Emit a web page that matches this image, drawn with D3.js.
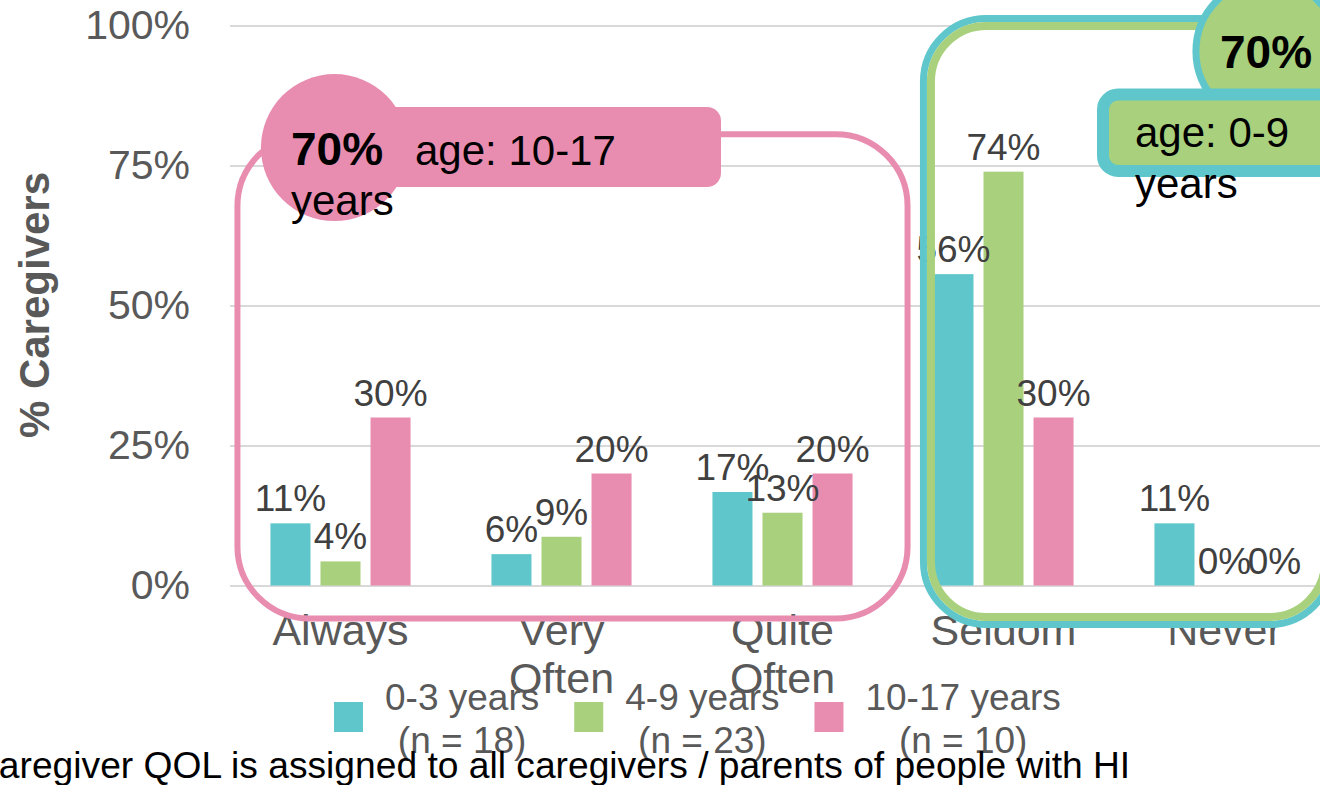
<!DOCTYPE html>
<html>
<head>
<meta charset="utf-8">
<script src="https://cdn.jsdelivr.net/npm/d3@7"></script>
<style>
  html, body { margin: 0; padding: 0; background: #fff; overflow: hidden; }
  svg { display: block; font-family: "Liberation Sans", Arial, Helvetica, sans-serif; }
</style>
</head>
<body>
<svg id="chart" width="1320" height="785"></svg>
<script>
// answers per age group (share of caregivers)
const categories = ["Always", "Very Often", "Quite Often", "Seldom", "Never"];
const seriesNames = ["0-3 years", "4-9 years", "10-17 years"];
const seriesN = [18, 23, 10];
const age0to3 = [0.111, 0.056, 0.167, 0.556, 0.111];
const age4to9 = [0.043, 0.087, 0.130, 0.739, 0];
const age10to17 = [0.30, 0.20, 0.20, 0.30, 0];
const yTicks = [0, 0.25, 0.5, 0.75, 1];
const colors = ["#5fc7cb", "#a8d07d", "#e88db0"];
const footnote = "Caregiver QOL is assigned to all caregivers / parents of people with HI";

const series = [age0to3, age4to9, age10to17];
const grey = "#595959";

const svg = d3.select("#chart");

const x0 = d3.scaleBand()
  .domain(categories)
  .range([230, 1335])
  .paddingInner(0.366)
  .paddingOuter(0.183);

const x1 = d3.scaleBand()
  .domain(seriesNames)
  .range([0, x0.bandwidth()])
  .paddingInner(0.2);

const y = d3.scaleLinear()
  .domain([0, 1])
  .range([585.5, 25.5]);

const color = d3.scaleOrdinal().domain(seriesNames).range(colors);

// y axis + gridlines
const yAxis = svg.append("g")
  .attr("transform", "translate(230,0)")
  .call(d3.axisLeft(y)
    .tickValues(yTicks)
    .tickFormat(d3.format(".0%"))
    .tickSize(-1105)
    .tickPadding(40));
yAxis.select(".domain").remove();
yAxis.selectAll(".tick line").attr("stroke", "#d9d9d9").attr("stroke-width", 2);
yAxis.selectAll(".tick text")
  .attr("fill", grey)
  .style("font-size", "41px");

svg.append("text")
  .attr("transform", "translate(49,305) rotate(-90)")
  .attr("text-anchor", "middle")
  .attr("fill", grey)
  .style("font-size", "42px")
  .style("font-weight", "bold")
  .text("% Caregivers");

// x axis labels, two words -> two lines
const xAxis = svg.append("g")
  .attr("transform", `translate(0,${y(0)})`)
  .call(d3.axisBottom(x0).tickSize(0).tickPadding(29));
xAxis.select(".domain").remove();
xAxis.selectAll(".tick text")
  .attr("fill", grey)
  .style("font-size", "43px")
  .each(function(d) {
    const t = d3.select(this);
    const words = d.split(" ");
    t.text(null);
    words.forEach((w, i) => {
      t.append("tspan").attr("x", 0).attr("dy", i === 0 ? "0.71em" : "1.12em").text(w);
    });
  });
xAxis.selectAll(".tick text").attr("dy", null);

// bars
const rows = categories.map((c, i) => ({
  cat: c,
  vals: seriesNames.map((s, j) => ({ key: s, value: series[j][i] }))
}));

const groups = svg.append("g").selectAll("g")
  .data(rows)
  .join("g")
  .attr("transform", d => `translate(${x0(d.cat)},0)`);

groups.selectAll("rect")
  .data(d => d.vals)
  .join("rect")
  .attr("x", d => x1(d.key))
  .attr("width", x1.bandwidth())
  .attr("y", d => y(d.value))
  .attr("height", d => y(0) - y(d.value))
  .attr("fill", d => color(d.key));

groups.selectAll("text")
  .data(d => d.vals)
  .join("text")
  .attr("x", d => x1(d.key) + x1.bandwidth() / 2)
  .attr("y", d => y(d.value) - 12)
  .attr("text-anchor", "middle")
  .attr("fill", "#404040")
  .style("font-size", "37px")
  .text(d => Math.round(d.value * 100) + "%");

// legend
const legend = svg.append("g");
let lx = 334;
seriesNames.forEach((s, i) => {
  const item = legend.append("g");
  item.append("rect")
    .attr("x", lx).attr("y", 702)
    .attr("width", 29).attr("height", 30)
    .attr("fill", colors[i]);
  const txt = item.append("text")
    .attr("fill", grey)
    .attr("text-anchor", "middle")
    .style("font-size", "37px");
  const l1 = txt.append("tspan").attr("y", 710).text(s);
  const l2 = txt.append("tspan").attr("y", 753).text(`(n = ${seriesN[i]})`);
  const w = Math.max(l1.node().getComputedTextLength(), l2.node().getComputedTextLength());
  l1.attr("x", lx + 51 + w / 2);
  l2.attr("x", lx + 51 + w / 2);
  lx += 51 + w + 35;
});

// footnote (starts left of the frame, like the original)
svg.append("text")
  .attr("x", -28)
  .attr("y", 778)
  .attr("fill", "#000")
  .style("font-size", "37.2px")
  .text(footnote);

// callout: 10-17 years (Always .. Quite Often)
const pink = colors[2], teal = colors[0], green = colors[1];
const pb = {
  x: x0("Always") - 33,
  x2: x0("Quite Often") + x0.bandwidth() + 55,
  y: y(0.806),
  y2: y(0) + 33
};
svg.append("rect")
  .attr("x", pb.x).attr("y", pb.y)
  .attr("width", pb.x2 - pb.x).attr("height", pb.y2 - pb.y)
  .attr("rx", 72)
  .attr("fill", "none")
  .attr("stroke", pink)
  .attr("stroke-width", 6);

svg.append("rect")
  .attr("x", 380).attr("y", 107)
  .attr("width", 341).attr("height", 80)
  .attr("rx", 14)
  .attr("fill", pink);
svg.append("circle")
  .attr("cx", x0("Always") + 64).attr("cy", y(0.782))
  .attr("r", 73.5)
  .attr("fill", pink);
const pt = svg.append("text").attr("fill", "#000").style("font-size", "42px");
pt.append("tspan").attr("x", 291).attr("y", 165)
  .style("font-weight", "bold").style("font-size", "46px").text("70%");
pt.append("tspan").attr("x", 415).attr("y", 165).text("age: 10-17");
pt.append("tspan").attr("x", 291).attr("y", 215).text("years");

// callout: 0-9 years (Seldom .. Never), runs past the right edge
const gb = {
  x: x0("Seldom") - 10,
  x2: x0("Never") + x0.bandwidth() + 38,
  y: y(1.0125),
  y2: y(0) + 39
};
svg.append("rect")
  .attr("x", gb.x).attr("y", gb.y)
  .attr("width", gb.x2 - gb.x).attr("height", gb.y2 - gb.y)
  .attr("rx", 63)
  .attr("fill", "none")
  .attr("stroke", teal)
  .attr("stroke-width", 7);
svg.append("rect")
  .attr("x", gb.x + 7.5).attr("y", gb.y + 7.5)
  .attr("width", gb.x2 - gb.x - 15).attr("height", gb.y2 - gb.y - 15)
  .attr("rx", 55.5)
  .attr("fill", "none")
  .attr("stroke", green)
  .attr("stroke-width", 8);

svg.append("circle")
  .attr("cx", x0("Never") + 113).attr("cy", y(0.954))
  .attr("r", 71.5)
  .attr("fill", green)
  .attr("stroke", teal)
  .attr("stroke-width", 7);
svg.append("rect")
  .attr("x", 1103).attr("y", 94.5)
  .attr("width", 300).attr("height", 76.5)
  .attr("rx", 15)
  .attr("fill", green)
  .attr("stroke", teal)
  .attr("stroke-width", 12);
const gt = svg.append("text").attr("fill", "#000").style("font-size", "42px");
gt.append("tspan").attr("x", 1220).attr("y", 68)
  .style("font-weight", "bold").style("font-size", "46px").text("70%");
gt.append("tspan").attr("x", 1135).attr("y", 147).text("age: 0-9");
gt.append("tspan").attr("x", 1135).attr("y", 198).text("years");
</script>
</body>
</html>
